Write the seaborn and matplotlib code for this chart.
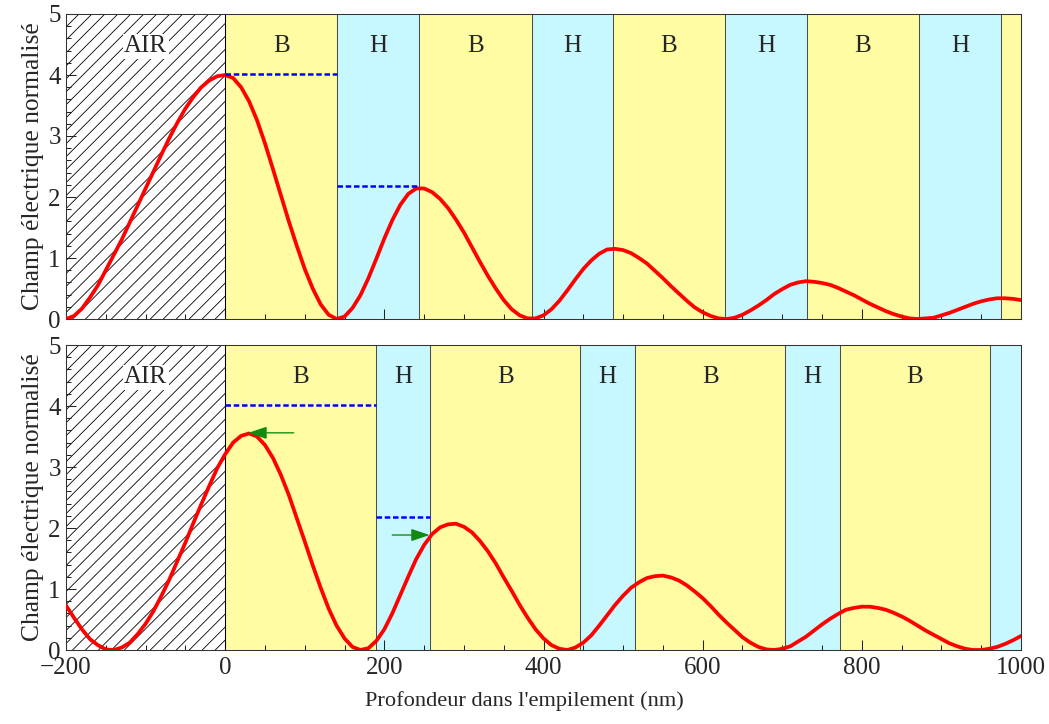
import numpy as np
import pandas as pd
import matplotlib
matplotlib.use("Agg")
import matplotlib.pyplot as plt
import seaborn as sns
from matplotlib.ticker import MultipleLocator

# Depth axis (nm) and normalised field
depth = np.arange(-200, 1001, 10)

top_field = [
    0.00, 0.05, 0.17, 0.35, 0.55, 0.80, 1.05, 1.30, 1.58, 1.86, 2.14,
    2.42, 2.70, 2.97, 3.22, 3.45, 3.64, 3.80, 3.91, 3.98, 4.00,
    3.95, 3.80, 3.57, 3.26, 2.88, 2.46, 2.03, 1.60, 1.20, 0.82,
    0.50, 0.24, 0.07, 0.00, 0.04, 0.18, 0.39, 0.67, 0.99, 1.32,
    1.62, 1.87, 2.05, 2.14, 2.14, 2.08, 1.97, 1.82, 1.63, 1.42,
    1.18, 0.94, 0.71, 0.50, 0.31, 0.16, 0.06, 0.01, 0.01, 0.06,
    0.16, 0.30, 0.47, 0.65, 0.82, 0.96, 1.07, 1.14, 1.15, 1.13,
    1.08, 1.00, 0.91, 0.79, 0.67, 0.54, 0.42, 0.30, 0.19, 0.11,
    0.05, 0.01, 0.00, 0.02, 0.07, 0.14, 0.22, 0.31, 0.41, 0.49,
    0.56, 0.60, 0.62, 0.61, 0.59, 0.56, 0.51, 0.45, 0.39, 0.32,
    0.25, 0.19, 0.13, 0.08, 0.04, 0.01, 0.00, 0.01, 0.02, 0.06,
    0.10, 0.15, 0.20, 0.25, 0.29, 0.32, 0.34, 0.34, 0.33, 0.31,
]

bottom_field = [
    0.73, 0.53, 0.34, 0.18, 0.08, 0.01, 0.00, 0.04, 0.12, 0.26, 0.43,
    0.64, 0.89, 1.16, 1.46, 1.76, 2.08, 2.39, 2.69, 2.98, 3.21,
    3.40, 3.51, 3.55, 3.50, 3.36, 3.15, 2.87, 2.54, 2.16, 1.78,
    1.39, 1.02, 0.68, 0.40, 0.19, 0.05, 0.00, 0.03, 0.15, 0.34,
    0.60, 0.90, 1.20, 1.49, 1.72, 1.90, 2.01, 2.06, 2.07, 2.02,
    1.93, 1.79, 1.62, 1.42, 1.19, 0.97, 0.74, 0.53, 0.34, 0.19,
    0.08, 0.02, 0.00, 0.04, 0.12, 0.24, 0.40, 0.57, 0.74, 0.89,
    1.02, 1.11, 1.18, 1.21, 1.22, 1.19, 1.14, 1.06, 0.96, 0.85,
    0.72, 0.58, 0.45, 0.33, 0.21, 0.12, 0.05, 0.01, 0.00, 0.02,
    0.06, 0.14, 0.22, 0.32, 0.42, 0.51, 0.59, 0.66, 0.69, 0.71,
    0.71, 0.69, 0.66, 0.61, 0.55, 0.48, 0.40, 0.32, 0.25, 0.18,
    0.11, 0.06, 0.02, 0.00, 0.00, 0.02, 0.05, 0.10, 0.16, 0.23,
]

# Layer stacks (boundaries in nm)
top_edges = [0, 141, 244, 385, 487, 628, 731, 872, 975, 1000]
top_layers = ["B", "H", "B", "H", "B", "H", "B", "H", "B"]
bottom_edges = [0, 189, 258, 446, 515, 704, 772, 961, 1000]
bottom_layers = ["B", "H", "B", "H", "B", "H", "B", "H"]

# Blue dashed reference levels
top_ref_start = [0, 141]
top_ref_end = [141, 244]
top_ref_level = [4.02, 2.18]
bottom_ref_start = [0, 189]
bottom_ref_end = [189, 258]
bottom_ref_level = [4.02, 2.18]

# Green arrows (bottom panel)
arrow_tail_x = [86, 210]
arrow_head_x = [29, 257]
arrow_y = [3.56, 1.885]

layer_colors = {"B": "#fffca3", "H": "#c8f8ff"}

sns.set_style("ticks")
plt.rcParams["font.family"] = ["Liberation Serif", "DejaVu Serif"]
plt.rcParams["axes.unicode_minus"] = True

DPI = 75
fig = plt.figure(figsize=(1049 / DPI, 724 / DPI), dpi=DPI)
ax1 = fig.add_axes([66 / 1049, 1 - 319 / 724, 955 / 1049, 305 / 724])
ax2 = fig.add_axes([66 / 1049, 1 - 650 / 724, 955 / 1049, 305 / 724])


def draw_panel(ax, field, edges, names, r_start, r_end, r_level):
    # hatched air region: 45 deg lines, ~13 px apart
    air = ax.axvspan(-200, 0, facecolor="white", edgecolor="none", zorder=0)
    run = 383  # nm covered by a 45 deg line across the 5-unit height
    for x0 in np.arange(-200 - run, 0, 16.3):
        ln, = ax.plot([x0, x0 + run], [0, 5], color="black", lw=0.8,
                      zorder=0.5)
        ln.set_clip_path(air)

    for left, right, name in zip(edges[:-1], edges[1:], names):
        ax.axvspan(left, right, facecolor=layer_colors[name],
                   edgecolor="none", zorder=0)
        ax.axvline(left, color="#4d4d4d", lw=1, zorder=1)
        if right - left > 50:
            ax.text((left + right) / 2, 4.47, name, ha="center", va="center",
                    fontsize=24, zorder=2)
    ax.axvline(0, color="black", lw=1, zorder=1)
    ax.text(-100, 4.47, "AIR", ha="center", va="center", fontsize=24,
            zorder=2, bbox=dict(facecolor="white", edgecolor="none", pad=1.5))

    sns.lineplot(x=depth, y=field, ax=ax, color="red", linewidth=3.6,
                 zorder=3)
    ax.hlines(r_level, r_start, r_end, colors="blue",
              linestyles=(0, (2.2, 1.1)), lw=2.4, zorder=4)

    ax.set_xlim(-200, 1000)
    ax.set_ylim(0, 5)
    ax.xaxis.set_major_locator(MultipleLocator(200))
    ax.xaxis.set_minor_locator(MultipleLocator(50))
    ax.yaxis.set_major_locator(MultipleLocator(1))
    ax.yaxis.set_minor_locator(MultipleLocator(0.2))
    ax.tick_params(which="both", direction="in", top=False, right=False,
                   width=1, color="#222222", labelsize=24)
    ax.tick_params(axis="x", which="both", pad=7)
    ax.tick_params(axis="y", which="both", pad=5)
    ax.tick_params(which="major", length=10)
    ax.tick_params(which="minor", length=5)
    for sp in ax.spines.values():
        sp.set_visible(True)
        sp.set_color("#333333")
        sp.set_linewidth(1)
    ax.set_ylabel("Champ électrique normalisé", fontsize=24.5)
    ax.yaxis.set_label_coords(-0.023, 0.5)
    ax.set_xlabel("")


draw_panel(ax1, top_field, top_edges, top_layers,
           top_ref_start, top_ref_end, top_ref_level)
draw_panel(ax2, bottom_field, bottom_edges, bottom_layers,
           bottom_ref_start, bottom_ref_end, bottom_ref_level)

ax1.tick_params(labelbottom=False)
ax2.set_xlabel("Profondeur dans l'empilement (nm)", fontsize=21.5)
ax2.xaxis.set_label_coords(0.4796, -0.135)

for x0, x1, y in zip(arrow_tail_x, arrow_head_x, arrow_y):
    ax2.annotate("", xy=(x1, y), xytext=(x0, y), zorder=5,
                 arrowprops=dict(arrowstyle="-|>,head_length=0.6,head_width=0.2",
                                 color="#118a11", lw=1.3, mutation_scale=25,
                                 shrinkA=0, shrinkB=0))

fig.savefig("out.png", dpi=DPI)
